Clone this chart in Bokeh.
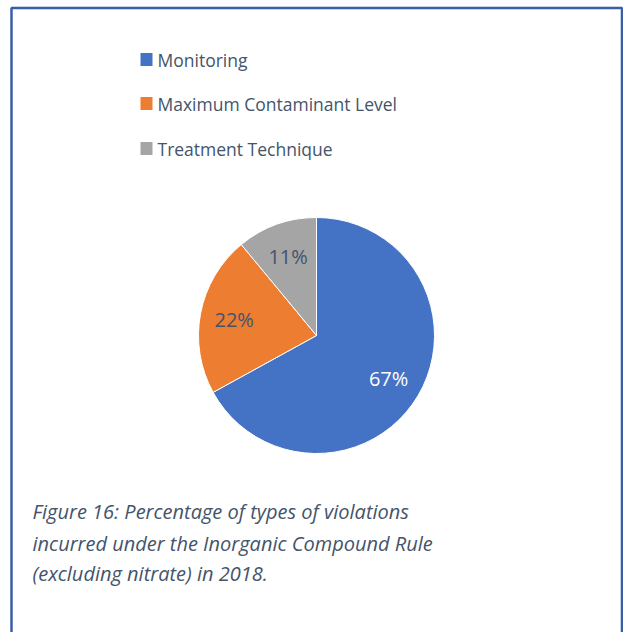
import numpy as np
from bokeh.plotting import figure
from bokeh.models import Range1d, ColumnDataSource, BoxAnnotation
from bokeh.core.properties import value
from bokeh.embed import file_html
from bokeh.resources import INLINE

# ---- data ----
categories = ["Monitoring", "Maximum Contaminant Level", "Treatment Technique"]
values = [67, 22, 11]
pct_labels = ["67%", "22%", "11%"]
colors = ["#4472C4", "#ED7D31", "#A5A5A5"]
label_colors = ["#FFFFFF", "#44546A", "#44546A"]
caption_lines = [
    "Figure 16: Percentage of types of violations",
    "incurred under the Inorganic Compound Rule",
    "(excluding nitrate) in 2018.",
]

# ---- layout ----
W, H = 623, 632
CX, CY, R = 316, 297, 118
TEXT_COLOR = "#44546A"
FONT = "Open Sans"

p = figure(width=W, height=H, x_range=Range1d(0, W), y_range=Range1d(0, H),
           output_backend="svg", toolbar_location=None, min_border=0,
           x_axis_type=None, y_axis_type=None)
p.grid.visible = False
p.outline_line_color = None
p.background_fill_color = "white"
p.border_fill_color = "white"

# frame border (open at bottom)
p.add_layout(BoxAnnotation(left=11, right=621.5, top=624.5, bottom=-60,
                           fill_alpha=0, line_color="#3A5DA8", line_alpha=1,
                           line_width=2.5))

# ---- pie ----
vals = np.array(values, dtype=float)
frac = vals / vals.sum()
cum_after = np.cumsum(frac)
cum_before = cum_after - frac
start = np.pi / 2 - 2 * np.pi * cum_before
end = np.pi / 2 - 2 * np.pi * cum_after
mid = (start + end) / 2

src = ColumnDataSource(dict(start=start, end=end, color=colors, cat=categories))
p.wedge(x=CX, y=CY, radius=R, start_angle="start", end_angle="end",
        direction="clock", fill_color="color", line_color="white",
        line_width=1, source=src)

lab = ColumnDataSource(dict(
    x=CX + 0.71 * R * np.cos(mid),
    y=CY + 0.71 * R * np.sin(mid),
    text=pct_labels, color=label_colors))
p.text(x="x", y="y", text="text", text_color="color", source=lab,
       text_align="center", text_baseline="middle",
       text_font=value(FONT), text_font_size="20px")

# ---- legend ----
leg_y = [573, 529, 484]
leg = ColumnDataSource(dict(x=[146] * 3, tx=[157] * 3, y=leg_y,
                            color=colors, text=categories))
p.rect(x="x", y="y", width=12, height=13, fill_color="color",
       line_color=None, source=leg)
p.text(x="tx", y="y", text="text", source=leg, text_color=TEXT_COLOR,
       text_align="left", text_baseline="middle",
       text_font=value(FONT), text_font_size="17.5px")

# ---- caption ----
cap = ColumnDataSource(dict(x=[32] * 3, y=[121, 89, 59], text=caption_lines))
p.text(x="x", y="y", text="text", source=cap, text_color=TEXT_COLOR,
       text_align="left", text_baseline="middle", text_font_style="italic",
       text_font=value(FONT), text_font_size="20px")

open("out.html", "w").write(file_html(p, INLINE))
